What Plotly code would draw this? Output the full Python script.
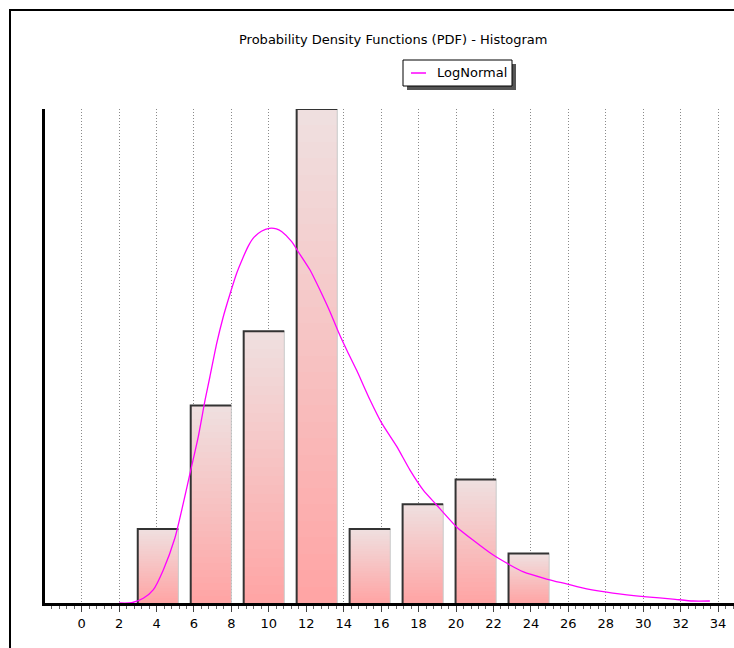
import plotly.graph_objects as go

# Histogram bins (bin centres, counts) and the fitted LogNormal curve
bin_centers = [4.08, 6.91, 9.74, 12.57, 15.40, 18.23, 21.06, 23.89]
counts = [3, 8, 11, 20, 3, 4, 5, 2]
bar_width = 2.17

curve_x = [2.0, 2.67, 3.29, 3.82, 4.36, 4.98, 5.43, 5.79, 6.23, 6.59, 6.85, 7.21,
           7.55, 7.92, 8.28, 8.60, 8.90, 9.20, 9.60, 10.02, 10.40, 10.68, 11.22, 11.57,
           12.20, 12.73, 13.26, 13.71, 14.16, 14.69, 15.40, 16.03, 16.83, 17.54, 18.25,
           18.96, 20.03, 20.92, 21.99, 22.88, 23.57, 24.84, 25.91, 26.98, 28.38, 30.18,
           31.58, 32.65, 33.56]
curve_y = [0.0, 0.01, 0.19, 0.53, 1.34, 2.63, 4.04, 5.26, 6.74, 8.21, 9.16, 10.5,
           11.55, 12.5, 13.35, 13.95, 14.45, 14.8, 15.05, 15.17, 15.15, 15.04, 14.63, 14.22,
           13.48, 12.67, 11.80, 10.98, 10.24, 9.42, 8.23, 7.28, 6.34, 5.38, 4.57,
           3.97, 3.08, 2.54, 1.94, 1.54, 1.27, 0.97, 0.77, 0.57, 0.40, 0.25,
           0.16, 0.08, 0.08]

x_ticks = list(range(0, 35, 2))

FONT = "DejaVu Sans, Verdana, sans-serif"
PLOT_L, PLOT_T, PLOT_B, W, H = 45, 109, 45, 734, 648
plot_w = W - PLOT_L
plot_h = H - PLOT_T - PLOT_B


def px_to_paper(px, py):
    return (px - PLOT_L) / plot_w, (H - PLOT_B - py) / plot_h


fig = go.Figure()

# vertical gradient inside each bar: stacked slices, pink at the base to pale grey on top
n_slices = 30
c_bottom = (255, 164, 164)
c_top = (239, 224, 224)
for i in range(n_slices):
    t = (i + 0.5) / n_slices
    col = tuple(round(c_bottom[k] + (c_top[k] - c_bottom[k]) * t) for k in range(3))
    fig.add_trace(go.Bar(
        x=bin_centers,
        y=[c / n_slices for c in counts],
        base=[c * i / n_slices for c in counts],
        width=bar_width,
        marker=dict(color="rgb(%d,%d,%d)" % col, line=dict(width=0)),
        showlegend=False, hoverinfo="skip",
    ))

# bar edges: dark left/top, light right
dark_x, dark_y, light_x, light_y = [], [], [], []
for c, h in zip(bin_centers, counts):
    left, right = c - bar_width / 2, c + bar_width / 2
    dark_x += [left, left, right, None]
    dark_y += [0, h, h, None]
    light_x += [right, right, None]
    light_y += [h, 0, None]
fig.add_trace(go.Scatter(x=light_x, y=light_y, mode="lines",
                         line=dict(color="#c8c8c8", width=1),
                         showlegend=False, hoverinfo="skip"))
fig.add_trace(go.Scatter(x=dark_x, y=dark_y, mode="lines",
                         line=dict(color="#333333", width=2),
                         showlegend=False, hoverinfo="skip"))

# LogNormal density curve
fig.add_trace(go.Scatter(x=curve_x, y=curve_y, mode="lines", name="LogNormal",
                         line=dict(color="#ff00ff", width=1.3, shape="spline", smoothing=0.6),
                         showlegend=False))

shapes = []
# outer frame
fx0, fy0 = px_to_paper(10, 10)
fx1, fy1 = px_to_paper(745, 660)
shapes.append(dict(type="rect", xref="paper", yref="paper", x0=fx0, y0=fy1, x1=fx1, y1=fy0,
                   line=dict(color="black", width=2), fillcolor="rgba(0,0,0,0)"))
# legend box with drop shadow
lx0, ly0 = px_to_paper(403, 60)
lx1, ly1 = px_to_paper(512, 86)
sx0, sy0 = px_to_paper(407, 64)
sx1, sy1 = px_to_paper(516, 90)
shapes.append(dict(type="rect", xref="paper", yref="paper", x0=sx0, y0=sy1, x1=sx1, y1=sy0,
                   line=dict(width=0), fillcolor="#555555"))
shapes.append(dict(type="rect", xref="paper", yref="paper", x0=lx0, y0=ly1, x1=lx1, y1=ly0,
                   line=dict(color="black", width=1), fillcolor="white"))
kx0, ky = px_to_paper(411, 73)
kx1, _ = px_to_paper(426, 73)
shapes.append(dict(type="line", xref="paper", yref="paper", x0=kx0, y0=ky, x1=kx1, y1=ky,
                   line=dict(color="#ff00ff", width=1.5)))

tx, ty = px_to_paper(393, 40)
ax_, ay_ = px_to_paper(435, 73)
annotations = [
    dict(text="Probability Density Functions (PDF) - Histogram", xref="paper", yref="paper",
         x=tx, y=ty, xanchor="center", yanchor="middle", showarrow=False,
         font=dict(family=FONT, size=13, color="black")),
    dict(text="LogNormal", xref="paper", yref="paper", x=ax_, y=ay_,
         xanchor="left", yanchor="middle", showarrow=False,
         font=dict(family=FONT, size=13, color="black")),
]

fig.update_layout(
    width=W, height=H,
    margin=dict(l=PLOT_L, r=0, t=PLOT_T, b=PLOT_B),
    paper_bgcolor="white", plot_bgcolor="white",
    barmode="overlay", bargap=0,
    showlegend=False,
    shapes=shapes, annotations=annotations,
    xaxis=dict(
        range=[-1.96, 34.85], tickvals=x_ticks, ticktext=[str(v) for v in x_ticks],
        showgrid=True, gridcolor="#8a8a8a", griddash="1px,2px", gridwidth=1,
        zeroline=False, showline=True, linecolor="black", linewidth=3,
        ticks="outside", ticklen=6, tickwidth=1, tickcolor="#444444",
        minor=dict(dtick=0.4, tick0=0, ticks="outside", ticklen=3, tickcolor="#666666",
                   showgrid=False),
        tickfont=dict(family=FONT, size=13, color="black"),
        fixedrange=True,
    ),
    yaxis=dict(
        range=[0, 20], showgrid=False, zeroline=False, showticklabels=False, ticks="",
        showline=True, linecolor="black", linewidth=3, fixedrange=True,
    ),
)

fig.write_html("out.html")
